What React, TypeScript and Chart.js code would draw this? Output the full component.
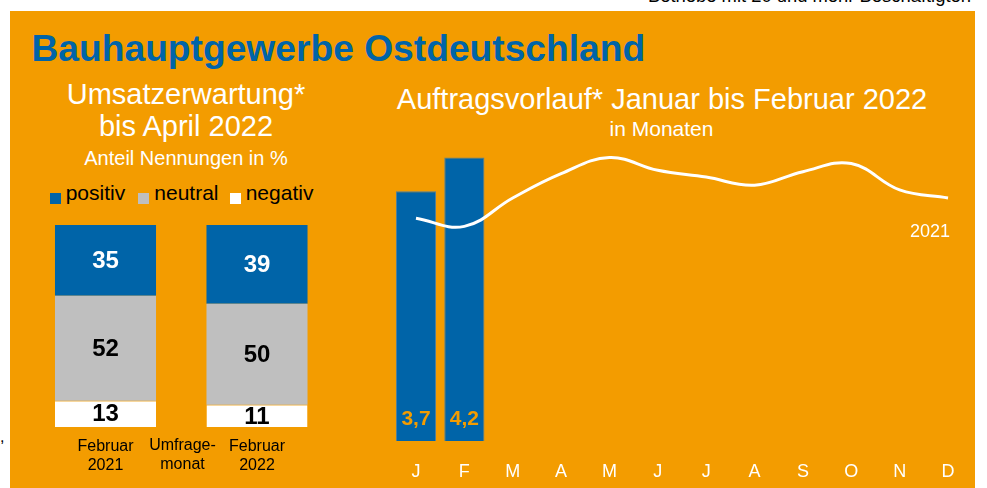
import React, { useEffect, useRef } from "react";
import { Chart, registerables } from "chart.js";

Chart.register(...registerables);

const FONT = "'Liberation Sans', Arial, Helvetica, sans-serif";
const ORANGE = "#F39C00";
const BLUE = "#0064A8";
const GRAY = "#BFBFBF";
const WHITE = "#FFFFFF";

// ---- Left chart: Umsatzerwartung ----
const surveyCategories = [["Februar", "2021"], ["Februar", "2022"]];
const positivValues = [35, 39];
const neutralValues = [52, 50];
const negativValues = [13, 11];
const legendLabels = ["positiv", "neutral", "negativ"];

// ---- Right chart: Auftragsvorlauf ----
const months = ["J", "F", "M", "A", "M", "J", "J", "A", "S", "O", "N", "D"];
const orders2022 = [3.7, 4.2, null, null, null, null, null, null, null, null, null, null];
const orders2021 = [3.3, 3.18, 3.6, 3.96, 4.2, 4.01, 3.91, 3.79, 3.99, 4.11, 3.72, 3.6];
const lineSeriesLabel = "2021";

Chart.defaults.font.family = FONT;

const stackLabelsPlugin = {
  id: "stackLabels",
  afterDatasetsDraw(chart: any) {
    const ctx = chart.ctx;
    chart.data.datasets.forEach((ds: any, di: number) => {
      const meta = chart.getDatasetMeta(di);
      meta.data.forEach((el: any, i: number) => {
        const v = ds.data[i];
        if (v == null) return;
        const p = el.getProps(["x", "y", "base"], true);
        ctx.save();
        ctx.font = `bold 24px ${FONT}`;
        ctx.fillStyle = ds.labelColor;
        ctx.textAlign = "center";
        ctx.textBaseline = "middle";
        ctx.fillText(String(v), p.x, (p.y + p.base) / 2 + 1);
        ctx.restore();
      });
    });
  },
};

const orderLabelsPlugin = {
  id: "orderLabels",
  afterDatasetsDraw(chart: any) {
    const ctx = chart.ctx;
    chart.data.datasets.forEach((ds: any, di: number) => {
      const meta = chart.getDatasetMeta(di);
      if (ds.type === "bar") {
        meta.data.forEach((el: any, i: number) => {
          const v = ds.data[i];
          if (v == null) return;
          const p = el.getProps(["x", "y", "base"], true);
          ctx.save();
          ctx.font = `bold 21px ${FONT}`;
          ctx.fillStyle = ORANGE;
          ctx.textAlign = "center";
          ctx.textBaseline = "middle";
          ctx.fillText(v.toFixed(1).replace(".", ","), p.x, p.base - 22);
          ctx.restore();
        });
      } else if (ds.type === "line") {
        const last = meta.data[meta.data.length - 1];
        if (!last) return;
        ctx.save();
        ctx.font = `18px ${FONT}`;
        ctx.fillStyle = WHITE;
        ctx.textAlign = "right";
        ctx.textBaseline = "middle";
        ctx.fillText(ds.label, last.x + 2, last.y + 34);
        ctx.restore();
      }
    });
  },
};

function LeftChart() {
  const ref = useRef<HTMLCanvasElement>(null);
  useEffect(() => {
    const chart = new Chart(ref.current!, {
      type: "bar",
      data: {
        labels: surveyCategories as any,
        datasets: [
          { label: legendLabels[2], data: negativValues, backgroundColor: WHITE, borderColor: "#F6D9A6", borderWidth: { top: 1 }, labelColor: "#000", barPercentage: 0.667, categoryPercentage: 1 } as any,
          { label: legendLabels[1], data: neutralValues, backgroundColor: GRAY, labelColor: "#000", barPercentage: 0.667, categoryPercentage: 1 } as any,
          { label: legendLabels[0], data: positivValues, backgroundColor: BLUE, labelColor: WHITE, barPercentage: 0.667, categoryPercentage: 1 } as any,
        ],
      },
      options: {
        animation: false,
        responsive: false,
        maintainAspectRatio: false,
        layout: { padding: { left: 19.75, right: 17.25, top: 10, bottom: 11 } },
        plugins: { legend: { display: false }, tooltip: { enabled: false } },
        scales: {
          x: {
            stacked: true,
            grid: { display: false },
            border: { display: false },
            ticks: { color: "#000", font: { size: 16, lineHeight: "19px" } as any, padding: 2, maxRotation: 0, autoSkip: false },
            afterFit: (s: any) => { s.height = 50; },
          },
          y: { stacked: true, display: false, min: 0, max: 100 },
        },
      },
      plugins: [stackLabelsPlugin],
    });
    return () => chart.destroy();
  }, []);
  return <canvas ref={ref} width={340} height={273} style={{ position: "absolute", left: 10, top: 215, width: 340, height: 273 }} />;
}

function RightChart() {
  const ref = useRef<HTMLCanvasElement>(null);
  useEffect(() => {
    const chart = new Chart(ref.current!, {
      type: "bar",
      data: {
        labels: months,
        datasets: [
          {
            type: "line",
            label: lineSeriesLabel,
            data: orders2021,
            borderColor: WHITE,
            borderWidth: 3,
            pointRadius: 0,
            tension: 0.4,
            fill: false,
            order: 0,
          } as any,
          {
            type: "bar",
            label: "2022",
            data: orders2022,
            backgroundColor: BLUE,
            borderColor: "#4F7F9E",
            borderWidth: 1,
            barPercentage: 0.83,
            categoryPercentage: 1,
            order: 1,
          } as any,
        ],
      },
      options: {
        animation: false,
        responsive: false,
        maintainAspectRatio: false,
        layout: { padding: { left: 11.8, right: 7.8, top: 7.25, bottom: 7 } },
        plugins: { legend: { display: false }, tooltip: { enabled: false } },
        scales: {
          x: {
            grid: { display: false },
            border: { display: false },
            ticks: { color: WHITE, font: { size: 18 }, padding: 12, maxRotation: 0, autoSkip: false },
            afterFit: (s: any) => { s.height = 40; },
          },
          y: { display: false, min: 0, max: 4.5 },
        },
      },
      plugins: [orderLabelsPlugin],
    });
    return () => chart.destroy();
  }, []);
  return <canvas ref={ref} width={600} height={358} style={{ position: "absolute", left: 380, top: 130, width: 600, height: 358 }} />;
}

function Txt({ text, x, baseline, size, color, bold = false, align = "left" }: any) {
  const top = baseline - 0.8465 * size;
  const style: React.CSSProperties = {
    position: "absolute",
    top,
    fontFamily: FONT,
    fontSize: size,
    lineHeight: `${size}px`,
    fontWeight: bold ? 700 : 400,
    color,
    whiteSpace: "nowrap",
    margin: 0,
  };
  if (align === "center") {
    style.left = x - 400;
    style.width = 800;
    style.textAlign = "center";
  } else if (align === "right") {
    style.left = x - 800;
    style.width = 800;
    style.textAlign = "right";
  } else {
    style.left = x;
  }
  return <div style={style}>{text}</div>;
}

function Square({ x, y, color }: any) {
  return <div style={{ position: "absolute", left: x, top: y, width: 11, height: 11, background: color }} />;
}

export default function App() {
  return (
    <div style={{ position: "absolute", left: 0, top: 0, width: 987, height: 488, overflow: "hidden", background: "#fff" }}>
      <Txt text="Betriebe mit 20 und mehr Beschäftigten" x={971} baseline={3} size={18.4} color="#000" align="right" />
      <div style={{ position: "absolute", left: 10, top: 11, width: 965, height: 477, background: ORANGE }} />
      <Txt text="," x={0} baseline={443} size={16} color="#000" />
      <Txt text="Bauhauptgewerbe Ostdeutschland" x={31.5} baseline={61} size={37.2} color={BLUE} bold />

      <Txt text="Umsatzerwartung*" x={186} baseline={105} size={29} color={WHITE} align="center" />
      <Txt text="bis April 2022" x={186} baseline={136.7} size={29} color={WHITE} align="center" />
      <Txt text="Anteil Nennungen in %" x={186} baseline={165} size={20} color={WHITE} align="center" />

      <Square x={50} y={193} color={BLUE} />
      <Txt text={legendLabels[0]} x={65.7} baseline={199.5} size={21} color="#000" />
      <Square x={138} y={193} color={GRAY} />
      <Txt text={legendLabels[1]} x={154.3} baseline={199.5} size={21} color="#000" />
      <Square x={230} y={193} color={WHITE} />
      <Txt text={legendLabels[2]} x={245.7} baseline={199.5} size={21} color="#000" />

      <LeftChart />
      <Txt text="Umfrage-" x={182.5} baseline={450.7} size={16} color="#000" align="center" />
      <Txt text="monat" x={182.5} baseline={469.7} size={16} color="#000" align="center" />

      <Txt text="Auftragsvorlauf* Januar bis Februar 2022" x={662} baseline={110} size={29} color={WHITE} align="center" />
      <Txt text="in Monaten" x={661.5} baseline={135.7} size={21} color={WHITE} align="center" />

      <RightChart />
    </div>
  );
}
